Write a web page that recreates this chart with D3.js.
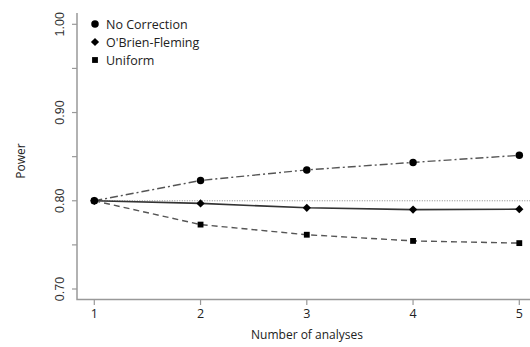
<!DOCTYPE html>
<html>
<head>
<meta charset="utf-8">
<script src="https://cdn.jsdelivr.net/npm/d3@7"></script>
<style>
  body { margin: 0; background: #fff; }
  svg { display: block; }
</style>
</head>
<body>
<script>
(() => {
  // data
  let analyses = [1, 2, 3, 4, 5]
  let noCorrection = [0.800, 0.823, 0.835, 0.8435, 0.8515]
  let obrienFleming = [0.800, 0.797, 0.792, 0.790, 0.7905]
  let uniform = [0.800, 0.773, 0.7615, 0.7545, 0.752]
  let yTicks = [0.70, 0.75, 0.80, 0.85, 0.90, 0.95, 1.00]
  let yLabels = [0.70, 0.80, 0.90, 1.00]
  let seriesNames = ["No Correction", "O'Brien-Fleming", "Uniform"]

  let W = 530, H = 347

  let x = d3.scaleLinear().domain([1, 5]).range([94.3, 519.3])
  let y = d3.scaleLinear().domain([0.70, 1.00]).range([289, 24.3])

  let svg = d3.select("body").append("svg")
    .attr("width", W)
    .attr("height", H)

  let axisCol = "#999"

  // L-shaped box
  svg.append("path")
    .attr("d", "M77,13 V299.5 H530")
    .attr("fill", "none")
    .attr("stroke", axisCol)
    .attr("stroke-width", 1.5)

  // y axis ticks
  svg.selectAll(".yt").data(yTicks).enter().append("line")
    .attr("x1", 72).attr("x2", 77)
    .attr("y1", d => y(d)).attr("y2", d => y(d))
    .attr("stroke", axisCol).attr("stroke-width", 1.2)

  svg.selectAll(".yl").data(yLabels).enter().append("text")
    .attr("transform", d => "translate(64," + y(d) + ") rotate(-90)")
    .attr("text-anchor", "middle")
    .attr("font-family", "Liberation Sans, Arial, sans-serif")
    .attr("font-size", 12.5)
    .attr("fill", "#333")
    .text(d => d.toFixed(2))

  // x axis ticks
  svg.selectAll(".xt").data(analyses).enter().append("line")
    .attr("x1", d => x(d)).attr("x2", d => x(d))
    .attr("y1", 299.5).attr("y2", 305)
    .attr("stroke", axisCol).attr("stroke-width", 1.2)

  svg.selectAll(".xl").data(analyses).enter().append("text")
    .attr("x", d => x(d)).attr("y", 318)
    .attr("text-anchor", "middle")
    .attr("font-family", "Open Sans, sans-serif")
    .attr("font-size", 12.5)
    .attr("fill", "#222")
    .text(d => d)

  // axis titles
  svg.append("text")
    .attr("x", 307).attr("y", 339)
    .attr("text-anchor", "middle")
    .attr("font-family", "Open Sans, sans-serif")
    .attr("font-size", 12)
    .attr("fill", "#222")
    .text("Number of analyses")

  svg.append("text")
    .attr("transform", "translate(25,161) rotate(-90)")
    .attr("text-anchor", "middle")
    .attr("font-family", "Open Sans, sans-serif")
    .attr("font-size", 12)
    .attr("fill", "#222")
    .text("Power")

  // reference line at 0.80
  svg.append("line")
    .attr("x1", x(1)).attr("x2", 530)
    .attr("y1", y(0.80)).attr("y2", y(0.80))
    .attr("stroke", "#666").attr("stroke-width", 0.8)
    .attr("stroke-dasharray", "1,1.5")

  let line = d3.line()
    .x((d, i) => x(analyses[i]))
    .y(d => y(d))

  // square diamond (R pch 18 style)
  let sqDiamond = {
    draw(ctx, size) {
      let r = Math.sqrt(size / 2)
      ctx.moveTo(0, -r)
      ctx.lineTo(r, 0)
      ctx.lineTo(0, r)
      ctx.lineTo(-r, 0)
      ctx.closePath()
    }
  }

  let series = [
    {vals: noCorrection, dash: "8,3,2,3", width: 1.4, col: "#555", shape: d3.symbolCircle, size: 44},
    {vals: obrienFleming, dash: null, width: 1.6, col: "#333", shape: sqDiamond, size: 34},
    {vals: uniform, dash: "6,4", width: 1.4, col: "#555", shape: d3.symbolSquare, size: 34}
  ]

  series.forEach(s => {
    svg.append("path")
      .datum(s.vals)
      .attr("d", line)
      .attr("fill", "none")
      .attr("stroke", s.col)
      .attr("stroke-width", s.width)
      .attr("stroke-dasharray", s.dash)
  })

  series.forEach(s => {
    svg.selectAll(null).data(s.vals).enter().append("path")
      .attr("d", d3.symbol().type(s.shape).size(s.size))
      .attr("transform", (d, i) => "translate(" + x(analyses[i]) + "," + y(d) + ")")
      .attr("fill", "#000")
  })

  // legend
  let leg = svg.append("g")
  seriesNames.forEach((name, i) => {
    let ly = 24 + i * 18
    leg.append("path")
      .attr("d", d3.symbol().type(series[i].shape).size(series[i].size))
      .attr("transform", "translate(95," + ly + ")")
      .attr("fill", "#000")
    leg.append("text")
      .attr("x", 106).attr("y", ly + 4.5)
      .attr("font-family", "Open Sans, sans-serif")
      .attr("font-size", 12.5)
      .attr("fill", "#222")
      .text(name)
  })
})()
</script>
</body>
</html>
